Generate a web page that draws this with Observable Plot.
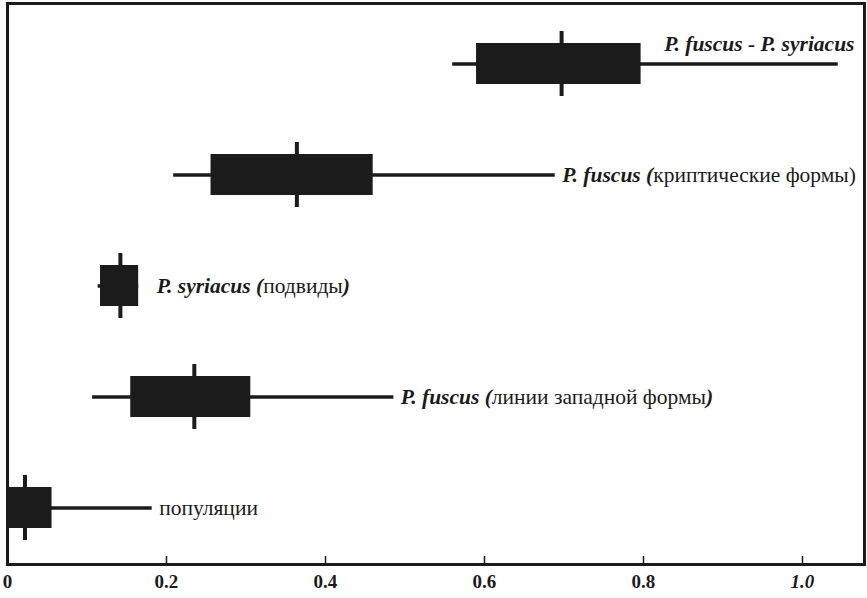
<!DOCTYPE html>
<html>
<head>
<meta charset="utf-8">
<script src="https://cdn.jsdelivr.net/npm/d3@7"></script>
<script src="https://cdn.jsdelivr.net/npm/@observablehq/plot@0.6"></script>
<style>
  body { margin: 0; background: #fff; }
  #chart svg { display: block; }
</style>
</head>
<body>
<div id="chart"></div>
<script>
// ---- data ----
const groups      = ["fuscus-syriacus", "fuscus-cryptic", "syriacus-subsp", "fuscus-western", "populations"];
const whiskerLow  = [0.560, 0.209, 0.114, 0.107, 0.000];
const boxLow      = [0.590, 0.256, 0.117, 0.155, 0.000];
const medianVal   = [0.697, 0.364, 0.142, 0.235, 0.022];
const boxHigh     = [0.797, 0.460, 0.165, 0.306, 0.056];
const whiskerHigh = [1.045, 0.689, 0.165, 0.486, 0.182];

// label parts: Latin (bold italic), Russian (regular), closing part (bold italic)
const labelLatin = ["P. fuscus - P. syriacus", "P. fuscus (", "P. syriacus (", "P. fuscus (", ""];
const labelRest  = ["", "криптические формы)", "подвиды", "линии западной формы", "популяции"];
const labelTail  = ["", "", ")", ")", ""];

const tickValues = [0, 0.2, 0.4, 0.6, 0.8, 1.0];
const tickLabels = ["0", "0.2", "0.4", "0.6", "0.8", "1.0"];

// ---- table built from the arrays ----
const rows = groups.map((g, i) => ({
  group: g, i,
  wl: whiskerLow[i], bl: boxLow[i], med: medianVal[i], bh: boxHigh[i], wh: whiskerHigh[i],
  label: labelLatin[i] + labelRest[i] + labelTail[i]
}));
const ticks = tickValues.map((v, i) => ({v, label: tickLabels[i], italic: i === tickValues.length - 1}));

const ink = "#1b1b1b";
const labelFont = 21.5;

const plot = Plot.plot({
  width: 867,
  height: 598,
  marginLeft: 7,
  marginRight: 3,
  marginTop: 3,
  marginBottom: 34,
  x: {domain: [0, 1.078], axis: null},
  y: {type: "band", domain: groups, range: [42, 529.4], paddingInner: 0.633, paddingOuter: 0, axis: null},
  style: {fontFamily: "'Liberation Serif', 'Times New Roman', serif", background: "white", color: ink},
  marks: [
    // whiskers
    Plot.ruleY(rows, {y: "group", x1: "wl", x2: "wh", stroke: ink, strokeWidth: 3.5}),
    // boxes
    Plot.barX(rows, {y: "group", x1: "bl", x2: "bh", fill: ink}),
    // medians
    Plot.tickX(rows, {y: "group", x: "med", stroke: ink, strokeWidth: 4, insetTop: -12, insetBottom: -12}),
    // labels
    Plot.text(rows.filter(d => d.i === 0), {y: "group", text: "label", frameAnchor: "right", textAnchor: "end",
      dx: -10, dy: -20, fontSize: labelFont, fill: ink}),
    Plot.text(rows.filter(d => d.i === 2), {y: "group", x: "wh", text: "label", textAnchor: "start",
      dx: 18, fontSize: labelFont, fill: ink}),
    Plot.text(rows.filter(d => d.i !== 0 && d.i !== 2), {y: "group", x: "wh", text: "label", textAnchor: "start",
      dx: 7, fontSize: labelFont, fill: ink}),
    // frame
    Plot.frame({stroke: ink, strokeWidth: 3}),
    // small inner tick marks at the bottom
    Plot.tickX(ticks.filter(d => d.v > 0), {x: "v", stroke: ink, strokeWidth: 1.5, insetTop: 553}),
    // tick labels
    Plot.text(ticks.filter(d => !d.italic), {x: "v", text: "label", frameAnchor: "bottom", dy: 23,
      fontSize: 19, fontWeight: "bold", fill: ink}),
    Plot.text(ticks.filter(d => d.italic), {x: "v", text: "label", frameAnchor: "bottom", dy: 23,
      fontSize: 19, fontWeight: "bold", fontStyle: "italic", fill: ink})
  ]
});

// mixed styling inside the row labels (tspans)
const ns = "http://www.w3.org/2000/svg";
plot.querySelectorAll("text").forEach(t => {
  const i = rows.findIndex(r => r.label === t.textContent);
  if (i < 0) return;
  t.textContent = "";
  [[labelLatin[i], true], [labelRest[i], false], [labelTail[i], true]].forEach(([s, latin]) => {
    if (!s) return;
    const ts = document.createElementNS(ns, "tspan");
    ts.textContent = s;
    ts.setAttribute("font-weight", latin ? "bold" : "normal");
    ts.setAttribute("font-style", latin ? "italic" : "normal");
    t.appendChild(ts);
  });
});

document.getElementById("chart").appendChild(plot);
</script>
</body>
</html>
